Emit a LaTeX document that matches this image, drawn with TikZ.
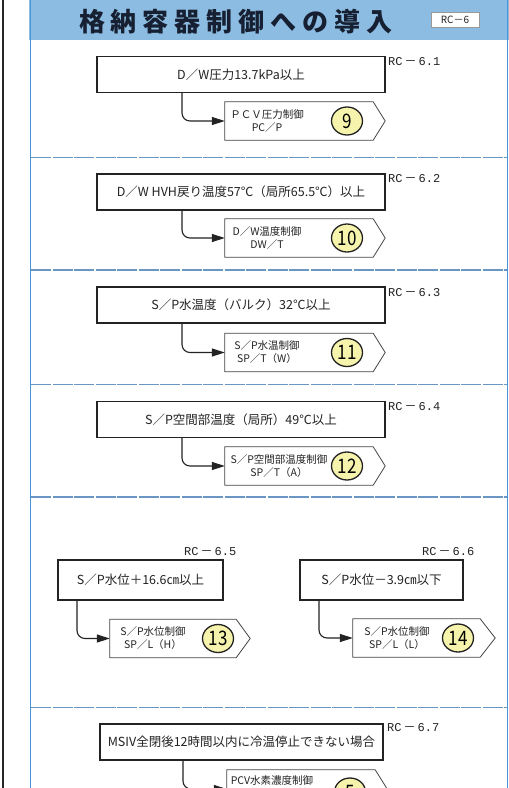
\documentclass[tikz,border=0pt]{standalone}
\usepackage{fontspec}
\setmainfont{Noto Sans CJK JP}
\newfontfamily\mono{Liberation Mono}
\usetikzlibrary{arrows.meta,shapes.geometric}
\definecolor{hdr}{RGB}{140,188,225}
\definecolor{edgeblue}{RGB}{70,150,215}
\definecolor{sepblue}{RGB}{105,150,195}
\definecolor{circfill}{RGB}{246,243,172}
\definecolor{ink}{RGB}{35,35,35}
\definecolor{titleink}{RGB}{22,32,50}
\begin{document}
\begin{tikzpicture}[x=1pt,y=-1pt,
  condbox/.style={draw=ink, line width=1.2pt, fill=white, minimum height=36pt, inner sep=0pt, font=\fontsize{12.5}{14}\selectfont, text=ink},
  pentrect/.style={minimum height=38pt, inner sep=0pt},
  pentline/.style={draw=ink!85, line width=0.8pt, fill=white},
  ctext/.style={align=center, font=\fontsize{10.5}{13}\selectfont, inner sep=0pt, text=ink},
  numc/.style={ellipse, draw=ink, line width=1.3pt, fill=circfill, minimum width=31pt, minimum height=28pt, inner sep=0pt, font=\fontsize{20}{20}\selectfont},
  rclabel/.style={font=\fontsize{12}{12}\selectfont\mono, inner sep=0pt, text=ink},
  conn/.style={draw=ink, line width=1.1pt, rounded corners=8pt, -{Triangle[length=13pt,width=8pt]}},
  sepline/.style={draw=sepblue, line width=1.2pt, dash pattern=on 20pt off 1.5pt}
]
\useasboundingbox (0,0) rectangle (509,788);
\clip (0,0) rectangle (509,788);
\fill[white] (0,0) rectangle (509,788);
% frame
\fill[hdr] (29,0) rectangle (509,40);
\draw[black!85, line width=2.5pt] (3,0) -- (3,788);
\draw[edgeblue, line width=1.5pt] (30.5,0) -- (30.5,788);
\draw[edgeblue, line width=1.5pt] (507.5,0) -- (507.5,788);
\node[font=\fontsize{26}{26}\selectfont\bfseries, text=titleink, inner sep=0pt] (title) at (236,22)
  {格\hspace{6pt}納\hspace{6pt}容\hspace{6pt}器\hspace{6pt}制\hspace{6pt}御\hspace{6pt}へ\hspace{6pt}の\hspace{6pt}導\hspace{6pt}入};
\node[draw=black!40, fill=white, minimum width=48pt, minimum height=15pt, inner sep=0pt, font=\fontsize{10}{10}\selectfont, text=ink] (code) at (455,20) {RC－6};
% separators
\foreach \yy in {157.5,270,384.5,497,707.5} \draw[sepline] (31,\yy) -- (507,\yy);

% condition boxes
\node[condbox, minimum width=288pt] (b1) at (241,74.5) {D／W圧力13.7kPa以上};
\node[condbox, minimum width=288pt] (b2) at (241,192) {D／W HVH戻り温度57℃（局所65.5℃）以上};
\node[condbox, minimum width=288pt] (b3) at (241,305) {S／P水温度（バルク）32℃以上};
\node[condbox, minimum width=288pt] (b4) at (241,419.5) {S／P空間部温度（局所）49℃以上};
\node[condbox, minimum width=165pt, minimum height=40pt] (b5) at (140.5,580) {S／P水位＋16.6㎝以上};
\node[condbox, minimum width=163pt, minimum height=40pt] (b6) at (381.5,580) {S／P水位－3.9㎝以下};
\node[condbox, minimum width=283pt] (b7) at (241.5,742) {MSIV全閉後12時間以内に冷温停止できない場合};

% labels
\node[rclabel, anchor=north west] (r1) at (388,57) {RC\,{\rmfamily －}\,6.1};
\node[rclabel, anchor=north west] (r2) at (388,174) {RC\,{\rmfamily －}\,6.2};
\node[rclabel, anchor=north west] (r3) at (388,288) {RC\,{\rmfamily －}\,6.3};
\node[rclabel, anchor=north west] (r4) at (388,402) {RC\,{\rmfamily －}\,6.4};
\node[rclabel, anchor=south west] (r5) at (184,556) {RC\,{\rmfamily －}\,6.5};
\node[rclabel, anchor=south west] (r6) at (422,556) {RC\,{\rmfamily －}\,6.6};
\node[rclabel, anchor=north west] (r7) at (387,723) {RC\,{\rmfamily －}\,6.7};

% pentagon bodies
\node[pentrect, minimum width=148pt] (p1) at (299,121) {};
\node[pentrect, minimum width=148pt] (p2) at (299,238) {};
\node[pentrect, minimum width=148pt] (p3) at (299,352.5) {};
\node[pentrect, minimum width=148pt] (p4) at (299,466) {};
\node[pentrect, minimum width=126pt] (p5) at (173,638.5) {};
\node[pentrect, minimum width=127pt] (p6) at (416.5,638) {};
\node[pentrect, minimum width=148pt] (p7) at (301,789) {};
\foreach \n/\tip in {p1/12,p2/12,p3/12,p4/12,p5/14,p6/15,p7/12}
  \draw[pentline] (\n.north west) -- (\n.north east) -- ([xshift=\tip pt]\n.east) -- (\n.south east) -- (\n.south west) -- cycle;

% connectors
\coordinate (k1) at (182,0);
\coordinate (k5) at (77,0);
\coordinate (k6) at (319,0);
\coordinate (k7) at (183,0);
\draw[conn] (b1.south -| k1) |- (p1.west);
\draw[conn] (b2.south -| k1) |- (p2.west);
\draw[conn] (b3.south -| k1) |- (p3.west);
\draw[conn] (b4.south -| k1) |- (p4.west);
\draw[conn] (b5.south -| k5) |- (p5.west);
\draw[conn] (b6.south -| k6) |- (p6.west);
\draw[conn] (b7.south -| k7) |- (p7.west);

% pentagon texts
\node[ctext] (t1) at (267,121) {ＰＣＶ圧力制御\\PC／P};
\node[ctext] (t2) at (267,238) {D／W温度制御\\DW／T};
\node[ctext] (t3) at (267,352.5) {S／P水温制御\\SP／T（W）};
\node[ctext] (t4) at (279,466) {S／P空間部温度制御\\SP／T（A）};
\node[ctext] (t5) at (153,638.5) {S／P水位制御\\SP／L（H）};
\node[ctext] (t6) at (397,638) {S／P水位制御\\SP／L（L）};
\node[ctext] (t7) at (272,781) {PCV水素濃度制御};

% number circles
\node[numc] (c1) at (347,121) {\scalebox{0.85}[1]{9}};
\node[numc] (c2) at (347,238) {\scalebox{0.85}[1]{10}};
\node[numc] (c3) at (347,352.5) {\scalebox{0.85}[1]{11}};
\node[numc] (c4) at (347,466) {\scalebox{0.85}[1]{12}};
\node[numc] (c5) at (218,638.5) {\scalebox{0.85}[1]{13}};
\node[numc] (c6) at (458,638) {\scalebox{0.85}[1]{14}};
\node[numc] (c7) at (350,792) {\scalebox{0.85}[1]{5}};
\end{tikzpicture}
\end{document}
